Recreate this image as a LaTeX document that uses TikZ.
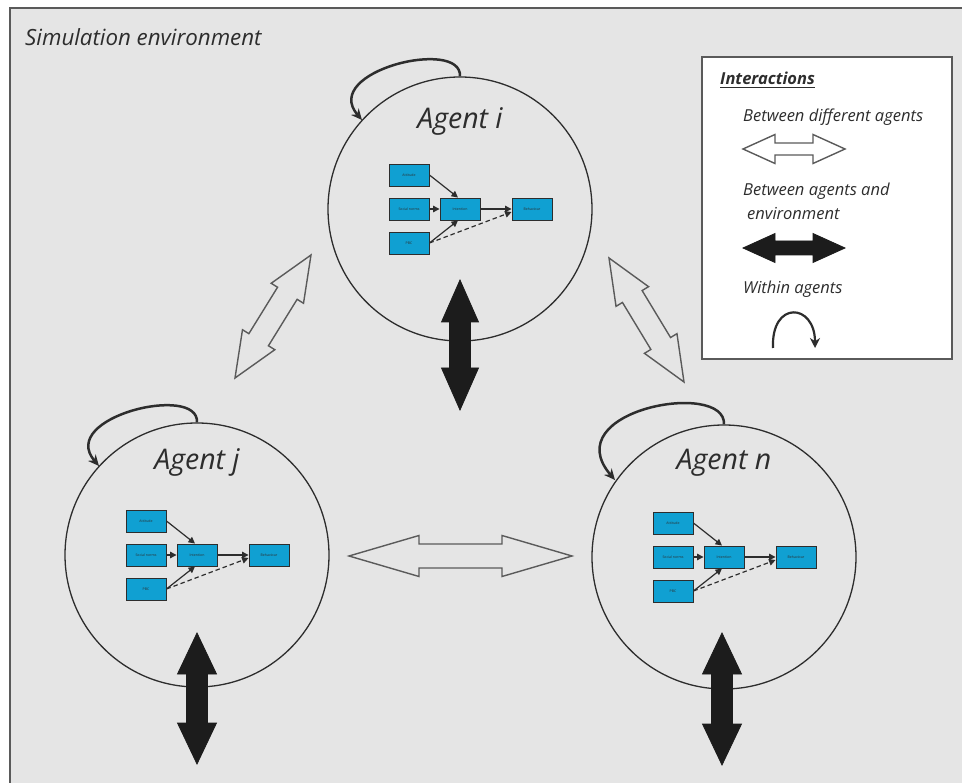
\documentclass[tikz,border=0pt]{standalone}
\usepackage{fontspec}
\setmainfont{Open Sans}
\usetikzlibrary{arrows.meta,calc}
\definecolor{bg}{RGB}{229,229,229}
\definecolor{frame}{RGB}{90,90,90}
\definecolor{boxblue}{RGB}{16,160,210}
\definecolor{ink}{RGB}{45,45,45}
\definecolor{heavy}{RGB}{28,28,28}
\tikzset{
  agentcircle/.style={circle, draw=ink, line width=1.3pt, minimum size=264pt, inner sep=0pt},
  tpbbox/.style={draw=ink, fill=boxblue, line width=0.9pt, minimum width=40pt, minimum height=22pt, inner sep=0pt, font=\fontsize{3.5}{4}\selectfont, text=ink},
  tpbarrow/.style={draw=ink, line width=1.2pt, -{Triangle[length=6.5pt,width=6.5pt]}},
  looparrow/.style={draw=ink, line width=2.5pt, -{Stealth[length=11pt,width=10pt]}},
  whitearrow/.style={draw=frame, line width=1.4pt, line join=miter},
  blackarrow/.style={draw=heavy, fill=heavy, line width=0.8pt, line join=miter},
  agentlabel/.style={font=\fontsize{28.5}{32}\selectfont\itshape, text=ink, inner sep=0pt},
  legendtext/.style={font=\fontsize{16.5}{19}\selectfont\itshape, text=ink, anchor=base west, inner sep=0pt},
}
\newcommand\fatarrow[6]{%
  \path[#6] let \p1=(#1), \p2=(#2),
      \n1={atan2((\y2)-(\y1),(\x2)-(\x1))},
      \n2={veclen((\x2)-(\x1),(\y2)-(\y1))} in
    ([shift={(\p1)},rotate=\n1]0,0)
    -- ([shift={(\p1)},rotate=\n1]#3,#4)
    -- ([shift={(\p1)},rotate=\n1]#3,#5)
    -- ([shift={(\p1)},rotate=\n1]\n2-#3,#5)
    -- ([shift={(\p1)},rotate=\n1]\n2-#3,#4)
    -- ([shift={(\p1)},rotate=\n1]\n2,0)
    -- ([shift={(\p1)},rotate=\n1]\n2-#3,-#4)
    -- ([shift={(\p1)},rotate=\n1]\n2-#3,-#5)
    -- ([shift={(\p1)},rotate=\n1]#3,-#5)
    -- ([shift={(\p1)},rotate=\n1]#3,-#4)
    -- cycle;}
\newcommand\agentunit[5]{%
  \node[agentcircle] (#1) at (#2,#3) {};
  \node[agentlabel, anchor=base] (#1-lab) at (#2,#5) {#4};
  \node[tpbbox] (#1-att) at (#2-51,#3-34) {Attitude};
  \node[tpbbox] (#1-soc) at (#2-51,#3) {Social norms};
  \node[tpbbox] (#1-pbc) at (#2-51,#3+34) {PBC};
  \node[tpbbox] (#1-int) at (#2,#3) {Intention};
  \node[tpbbox] (#1-beh) at (#2+72,#3) {Behaviour};
  \draw[tpbarrow] (#1-att.east) -- ([xshift=-2pt]#1-int.north);
  \draw[tpbarrow] (#1-soc) -- (#1-int);
  \draw[tpbarrow] (#1-pbc.east) -- ([xshift=-2pt]#1-int.south);
  \draw[tpbarrow] (#1-int) -- (#1-beh);
  \draw[tpbarrow, dashed, dash pattern=on 4.5pt off 3pt] (#1-pbc.east) -- ([yshift=-3pt]#1-beh.west);
}
\begin{document}
\begin{tikzpicture}[x=1pt,y=-1pt]
\useasboundingbox (0,0) rectangle (962,783);
\fill[white] (0,0) rectangle (962,783);
\draw[fill=bg, draw=frame, line width=1.3pt] (10,8) rectangle (990,800);
\node[legendtext, font=\fontsize{22.3}{26}\selectfont\itshape] (simenv) at (25,46) {Simulation environment};

% agents
\agentunit{ai}{460}{209}{Agent i}{129}
\agentunit{aj}{197}{555}{Agent j}{470}
\agentunit{an}{724}{557}{Agent n}{470}

% loops within agents
\coordinate (ai-tip) at (362,120);
\coordinate (aj-tip) at (99,466);
\coordinate (an-tip) at (615,480);
\draw[looparrow] (ai.north) .. controls +(2,-39) and +(-42,-49) .. (ai-tip);
\draw[looparrow] (aj.north) .. controls +(2,-39) and +(-42,-49) .. (aj-tip);
\draw[looparrow] (an.north) .. controls +(2,-45) and +(-60,-70) .. (an-tip);

% interactions between agents
\coordinate (ij-a) at (311,255);
\coordinate (ij-b) at (235,378);
\coordinate (in-a) at (609,258);
\coordinate (in-b) at (684,382);
\coordinate (jn-a) at (349,556);
\coordinate (jn-b) at (572,556);
\fatarrow{ij-a}{ij-b}{45}{19}{11.5}{whitearrow}
\fatarrow{in-a}{in-b}{45}{19}{11.5}{whitearrow}
\fatarrow{jn-a}{jn-b}{70}{20.5}{12}{whitearrow}

% interactions with environment
\coordinate (ei-a) at (460,280);
\coordinate (ei-b) at (460,410);
\coordinate (ej-a) at (197,633);
\coordinate (ej-b) at (197,764);
\coordinate (en-a) at (722,633);
\coordinate (en-b) at (722,765);
\fatarrow{ei-a}{ei-b}{42}{18.5}{10.5}{blackarrow}
\fatarrow{ej-a}{ej-b}{41}{19.5}{10.5}{blackarrow}
\fatarrow{en-a}{en-b}{41}{19.5}{10.5}{blackarrow}

% legend
\node[draw=frame, fill=white, line width=1.2pt, minimum width=250pt, minimum height=302pt, inner sep=0pt] (legend) at (827,208) {};
\node[legendtext, font=\fontsize{16.5}{19}\selectfont\bfseries\itshape] (lg-title) at (720,85) {Interactions};
\draw[ink, line width=0.9pt] ([yshift=-2.5pt]lg-title.base west) -- ([yshift=-2.5pt]lg-title.base east);
\node[legendtext] (lg-t1) at (743,121.5) {Between different agents};
\node[legendtext] (lg-t2) at (743,195.5) {Between agents and};
\node[legendtext] (lg-t3) at (747,220) {environment};
\node[legendtext] (lg-t4) at (743,294) {Within agents};
\coordinate (lw-a) at (743,149);
\coordinate (lw-b) at (845,149);
\coordinate (lb-a) at (743,248);
\coordinate (lb-b) at (845,248);
\fatarrow{lw-a}{lw-b}{32}{14.5}{6}{whitearrow}
\fatarrow{lb-a}{lb-b}{32}{14.5}{7}{blackarrow}
\coordinate (lc-a) at (773,348);
\coordinate (lc-b) at (815,348);
\draw[ink, line width=2.2pt, -{Stealth[length=10pt,width=10pt]}] (lc-a) .. controls +(-2,-48) and +(0,-45) .. (lc-b);
\end{tikzpicture}
\end{document}
